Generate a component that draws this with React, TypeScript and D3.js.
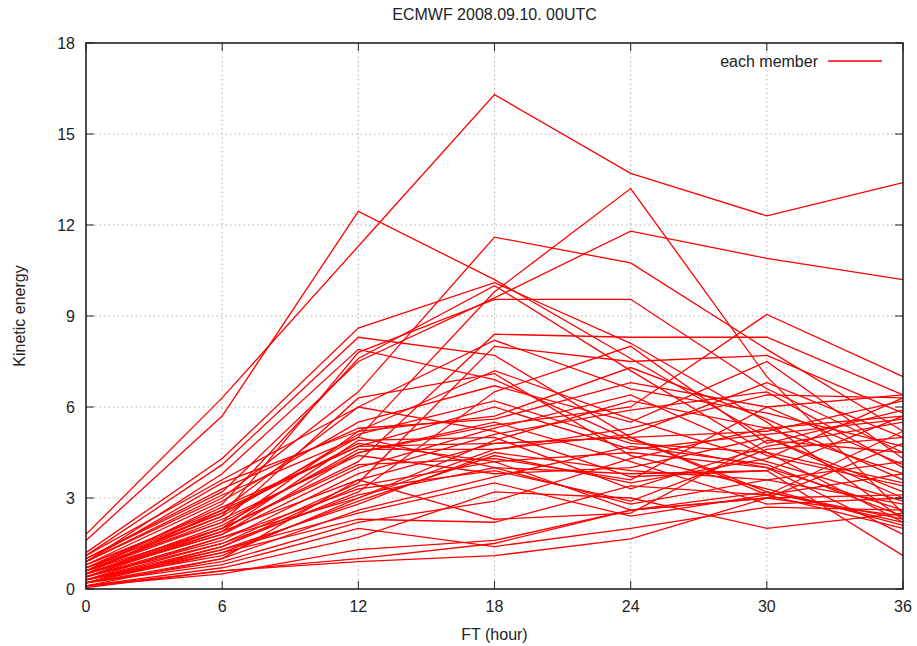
import React from 'react';
import * as d3 from 'd3';

const forecastHours = [0, 6, 12, 18, 24, 30, 36];
const yTicks = [0, 3, 6, 9, 12, 15, 18];

// kinetic energy of each ensemble member at each forecast hour
const members: number[][] = [
  [1.8, 6.3, 11.3, 16.3, 13.7, 12.3, 13.4],
  [1.6, 5.7, 12.45, 10.2, 7.6, 5.0, 3.0],
  [0.9, 3.0, 6.5, 11.6, 10.75, 7.9, 5.2],
  [0.8, 2.5, 5.0, 9.8, 13.2, 7.0, 2.5],
  [1.0, 3.2, 7.5, 9.6, 11.8, 10.9, 10.2],
  [0.7, 2.4, 7.8, 9.55, 9.55, 6.6, 4.5],
  [0.5, 1.8, 4.5, 5.4, 6.0, 9.05, 7.0],
  [1.2, 4.3, 8.6, 10.1, 8.1, 5.5, 2.3],
  [1.1, 4.1, 8.3, 7.7, 5.0, 3.1, 2.0],
  [0.9, 3.8, 7.9, 6.9, 4.9, 4.0, 2.6],
  [0.6, 2.8, 7.6, 10.0, 7.2, 4.5, 3.5],
  [0.4, 2.0, 4.2, 8.4, 8.3, 8.3, 6.4],
  [0.3, 1.5, 3.5, 8.0, 7.5, 7.7, 5.8],
  [0.6, 2.2, 6.3, 7.1, 4.4, 3.3, 2.1],
  [1.0, 3.3, 5.3, 5.6, 6.8, 6.0, 6.4],
  [0.5, 2.6, 6.0, 5.2, 3.7, 3.9, 5.7],
  [0.8, 2.9, 5.5, 6.7, 5.5, 7.5, 4.3],
  [0.2, 1.4, 3.2, 6.5, 8.0, 4.8, 5.9],
  [0.7, 2.5, 4.8, 4.2, 2.6, 3.0, 4.8],
  [0.4, 1.9, 4.9, 5.0, 3.3, 4.7, 5.5],
  [0.3, 1.7, 3.0, 4.9, 6.2, 5.3, 3.8],
  [0.5, 2.1, 4.6, 4.6, 5.1, 6.8, 5.0],
  [0.9, 3.1, 5.0, 4.0, 2.8, 3.6, 2.8],
  [0.6, 2.3, 4.4, 3.8, 4.0, 5.0, 3.2],
  [0.2, 1.2, 2.9, 4.4, 3.5, 4.3, 6.3],
  [0.1, 1.0, 2.6, 3.7, 4.7, 4.1, 2.4],
  [0.4, 1.6, 3.8, 5.1, 5.9, 6.5, 4.0],
  [0.3, 1.3, 2.5, 3.5, 2.4, 3.1, 5.2],
  [0.7, 2.7, 4.7, 4.8, 5.0, 3.2, 2.2],
  [0.2, 0.9, 2.2, 2.9, 4.3, 5.3, 5.7],
  [0.1, 0.7, 1.7, 3.2, 3.0, 2.0, 2.5],
  [0.5, 1.9, 3.6, 2.3, 2.5, 4.9, 4.5],
  [0.3, 1.4, 3.4, 4.2, 4.5, 4.0, 1.8],
  [0.1, 0.5, 1.3, 1.6, 2.6, 3.0, 3.1],
  [0.05, 0.6, 0.9, 1.1, 1.65, 3.0, 2.4],
  [0.2, 0.8, 2.0, 1.4, 2.0, 2.7, 2.6],
  [0.4, 1.5, 3.1, 4.0, 3.8, 3.9, 1.1],
  [0.6, 2.0, 5.2, 5.7, 7.3, 5.6, 3.6],
  [0.8, 2.6, 4.7, 6.0, 4.6, 5.1, 5.6],
  [0.9, 3.5, 5.2, 7.2, 5.6, 4.2, 2.9],
  [0.3, 1.1, 3.0, 4.6, 5.3, 6.4, 6.3],
  [0.5, 1.8, 4.0, 5.3, 6.4, 4.4, 3.4],
  [0.2, 1.3, 2.8, 4.5, 3.9, 3.6, 4.2],
  [0.7, 2.2, 4.5, 5.5, 4.2, 2.8, 3.0],
  [0.4, 1.7, 3.3, 3.9, 2.9, 4.6, 5.0],
  [1.1, 3.6, 6.0, 8.2, 6.6, 5.8, 4.7],
  [0.6, 2.4, 5.1, 6.2, 4.8, 4.5, 2.2],
  [0.3, 1.2, 2.3, 2.2, 3.4, 3.1, 3.8],
  [0.2, 1.0, 3.6, 4.8, 5.0, 5.2, 6.2],
  [0.1, 0.6, 1.0, 1.5, 2.6, 3.2, 2.3],
  [0.5, 2.0, 4.1, 4.3, 3.6, 6.0, 4.1],
];

const W = 917;
const H = 646;
const margin = { top: 43, right: 14, bottom: 57, left: 86 };
const font = '"Liberation Sans", Arial, sans-serif';

export default function App() {
  const x = d3.scaleLinear().domain([0, 36]).range([margin.left, W - margin.right]);
  const y = d3.scaleLinear().domain([0, 18]).range([H - margin.bottom, margin.top]);

  const line = d3.line<number>()
    .x((_, i) => x(forecastHours[i]))
    .y(d => y(d));

  const [x0, x1] = x.range();
  const [y0, y1] = y.range();

  return (
    <svg width={W} height={H} style={{ position: 'absolute', left: 0, top: 0 }} fontFamily={font} fill="#222">
      <rect width={W} height={H} fill="#fff" />
      <text x={(x0 + x1) / 2} y={20} textAnchor="middle" fontSize={16}>ECMWF 2008.09.10. 00UTC</text>

      {/* grid */}
      {forecastHours.slice(1, -1).map(h => (
        <line key={'gx' + h} x1={x(h)} x2={x(h)} y1={y0} y2={y1} stroke="#b0b0b0" strokeDasharray="1.5,3" />
      ))}
      {yTicks.slice(1, -1).map(v => (
        <line key={'gy' + v} x1={x0} x2={x1} y1={y(v)} y2={y(v)} stroke="#b0b0b0" strokeDasharray="1.5,3" />
      ))}

      {/* member lines */}
      <g fill="none" stroke="#ff0000" strokeWidth={1.3}>
        {members.map((m, i) => <path key={i} d={line(m) || ''} />)}
      </g>

      {/* border and ticks */}
      <rect x={x0} y={y1} width={x1 - x0} height={y0 - y1} fill="none" stroke="#222" strokeWidth={1.6} />
      {forecastHours.map(h => (
        <g key={'tx' + h}>
          <line x1={x(h)} x2={x(h)} y1={y0} y2={y0 - 8} stroke="#222" />
          <line x1={x(h)} x2={x(h)} y1={y1} y2={y1 + 8} stroke="#222" />
          <text x={x(h)} y={y0 + 23} textAnchor="middle" fontSize={16}>{h}</text>
        </g>
      ))}
      {yTicks.map(v => (
        <g key={'ty' + v}>
          <line x1={x0} x2={x0 + 8} y1={y(v)} y2={y(v)} stroke="#222" />
          <line x1={x1} x2={x1 - 8} y1={y(v)} y2={y(v)} stroke="#222" />
          <text x={x0 - 11} y={y(v) + 6} textAnchor="end" fontSize={16}>{v}</text>
        </g>
      ))}

      <text x={(x0 + x1) / 2} y={640} textAnchor="middle" fontSize={16}>FT (hour)</text>
      <text transform={`translate(25, ${(y0 + y1) / 2}) rotate(-90)`} textAnchor="middle" fontSize={16}>Kinetic energy</text>

      {/* legend */}
      <text x={818} y={67} textAnchor="end" fontSize={16}>each member</text>
      <line x1={828} x2={882} y1={61} y2={61} stroke="#ff0000" strokeWidth={1.3} />
    </svg>
  );
}
